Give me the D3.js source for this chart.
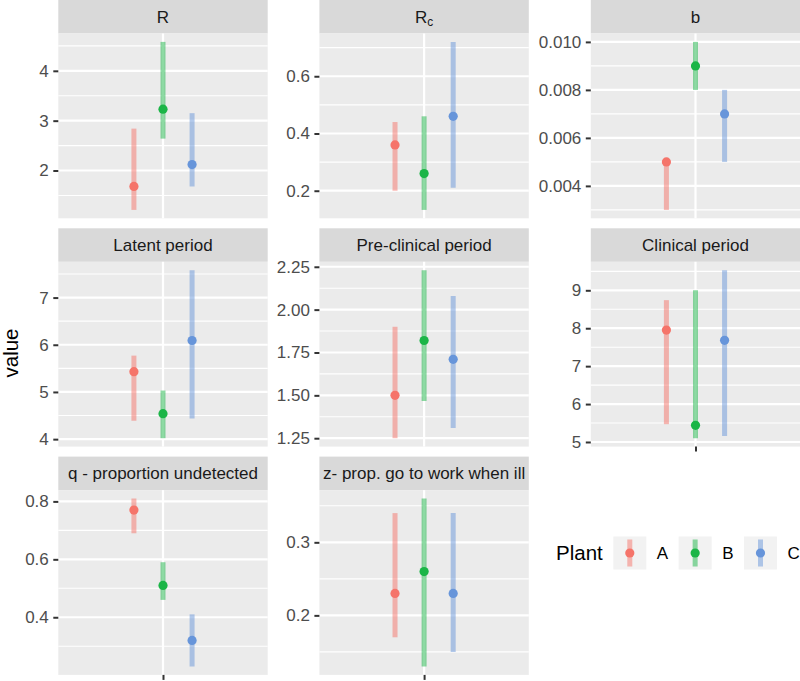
<!DOCTYPE html>
<html><head><meta charset="utf-8">
<script src="https://cdn.jsdelivr.net/npm/d3@7"></script>
<style>body{margin:0;background:#fff}svg{display:block;font-family:"Liberation Sans",Arial,sans-serif}</style>
</head><body><svg id="c" width="800" height="681"></svg>
<script>
// ---------- data ----------
const panels = ["R", "Rc", "b", "Latent period", "Pre-clinical period", "Clinical period",
                "q - proportion undetected", "z- prop. go to work when ill"];
const plants = ["A", "B", "C"];
const colors = ["#F5746A", "#1BB547", "#6795DA"];

const estA = [1.68, 0.36, 0.005, 5.43, 1.50, 7.95, 0.77, 0.23];
const lowA = [1.21, 0.20, 0.003, 4.39, 1.25, 5.47, 0.69, 0.17];
const highA = [2.84, 0.44, 0.005, 5.77, 1.90, 8.74, 0.81, 0.34];

const estB = [3.23, 0.26, 0.009, 4.54, 1.82, 5.44, 0.51, 0.26];
const lowB = [2.64, 0.133, 0.008, 4.02, 1.467, 5.10, 0.46, 0.13];
const highB = [4.58, 0.46, 0.010, 5.03, 2.23, 9.00, 0.59, 0.36];

const estC = [2.12, 0.46, 0.007, 6.09, 1.71, 7.68, 0.32, 0.23];
const lowC = [1.68, 0.21, 0.005, 4.44, 1.31, 5.16, 0.23, 0.15];
const highC = [3.15, 0.72, 0.008, 7.58, 2.08, 9.53, 0.41, 0.34];

const tickVals = [[2, 3, 4], [0.2, 0.4, 0.6], [0.004, 0.006, 0.008, 0.010], [4, 5, 6, 7],
                  [1.25, 1.5, 1.75, 2.0, 2.25], [5, 6, 7, 8, 9], [0.4, 0.6, 0.8], [0.2, 0.3]];
const tickLabels = [["2", "3", "4"], ["0.2", "0.4", "0.6"], ["0.004", "0.006", "0.008", "0.010"],
                    ["4", "5", "6", "7"], ["1.25", "1.50", "1.75", "2.00", "2.25"],
                    ["5", "6", "7", "8", "9"], ["0.4", "0.6", "0.8"], ["0.2", "0.3"]];

// ---------- layout ----------
const colLeft = [58.3, 319.4, 590.8];
const panelW = 209.4;
const rowTop = [0, 228.3, 456.6];
const stripH = 33.5, panelH = 184.8;
const fontSm = 17, fontLg = 20.5;

const est = [estA, estB, estC], low = [lowA, lowB, lowC], high = [highA, highB, highC];
const svg = d3.select("#c");

const xScale = d3.scaleLinear().domain([0.4, 1.6]).range([0, panelW]);
const dodge = d3.scalePoint().domain(plants).range([-0.5 / 3, 0.5 / 3]);

panels.forEach((name, i) => {
  const row = Math.floor(i / 3), col = i % 3;
  const g = svg.append("g").attr("transform", `translate(${colLeft[col]},${rowTop[row]})`);
  // strip
  g.append("rect").attr("width", panelW).attr("height", stripH).attr("fill", "#D9D9D9");
  const st = g.append("text").attr("x", panelW / 2).attr("y", stripH / 2 + fontSm * 0.36)
    .attr("text-anchor", "middle").attr("font-size", fontSm).attr("fill", "#1A1A1A");
  if (name === "Rc") {
    st.append("tspan").text("R");
    st.append("tspan").attr("font-size", fontSm * 0.7).attr("dy", 3).text("c");
  } else st.text(name);

  const p = g.append("g").attr("transform", `translate(0,${stripH})`);
  p.append("rect").attr("width", panelW).attr("height", panelH).attr("fill", "#EBEBEB");

  const lo = d3.min(low, a => a[i]), hi = d3.max(high, a => a[i]);
  const pad = (hi - lo) * 0.05;
  const y = d3.scaleLinear().domain([lo - pad, hi + pad]).range([panelH, 0]);

  // minor grid
  const tv = tickVals[i];
  const step = tv[1] - tv[0];
  const minors = [];
  for (let k = -1; k < tv.length; k++) {
    const m = tv[0] + step * (k + 0.5);
    if (m >= lo - pad && m <= hi + pad) minors.push(m);
  }
  p.selectAll(".mn").data(minors).join("line")
    .attr("x1", 0).attr("x2", panelW).attr("y1", d => y(d)).attr("y2", d => y(d))
    .attr("stroke", "#fff").attr("stroke-width", 1.1);
  p.selectAll(".mj").data(tv).join("line")
    .attr("x1", 0).attr("x2", panelW).attr("y1", d => y(d)).attr("y2", d => y(d))
    .attr("stroke", "#fff").attr("stroke-width", 2.2);
  p.append("line").attr("x1", xScale(1)).attr("x2", xScale(1)).attr("y1", 0).attr("y2", panelH)
    .attr("stroke", "#fff").attr("stroke-width", 2.2);

  // y axis
  const ax = p.append("g").call(d3.axisLeft(y).tickValues(tv)
    .tickFormat((d, j) => tickLabels[i][j]).tickSize(5).tickPadding(4.5));
  ax.select(".domain").remove();
  ax.selectAll("line").attr("stroke", "#333333").attr("stroke-width", 2);
  ax.selectAll("text").attr("fill", "#4D4D4D").attr("font-size", fontSm)
    .attr("font-family", "Liberation Sans, Arial, sans-serif");

  // x axis ticks for bottom panels
  if (row === 2 || (row === 1 && col === 2)) {
    const bx = p.append("g").attr("transform", `translate(0,${panelH})`)
      .call(d3.axisBottom(xScale).tickValues([1]).tickFormat("").tickSize(5));
    bx.select(".domain").remove();
    bx.selectAll("line").attr("stroke", "#333333").attr("stroke-width", 2);
  }

  // marks
  plants.forEach((pl, k) => {
    const cx = xScale(1 + dodge(pl));
    p.append("line").attr("x1", cx).attr("x2", cx)
      .attr("y1", y(low[k][i])).attr("y2", y(high[k][i]))
      .attr("stroke", colors[k]).attr("stroke-opacity", 0.5).attr("stroke-width", 5);
    p.append("circle").attr("cx", cx).attr("cy", y(est[k][i])).attr("r", 4.6).attr("fill", colors[k]);
  });
});

// y axis title
svg.append("text").attr("transform", "translate(18,353) rotate(-90)")
  .attr("text-anchor", "middle").attr("font-size", fontLg).attr("fill", "#000").text("value");

// legend
const leg = svg.append("g").attr("transform", "translate(556,553)");
leg.append("text").attr("x", 0).attr("y", fontLg * 0.36).attr("font-size", fontLg).text("Plant");
let xoff = 57.3;
const keyS = 33;
plants.forEach((pl, k) => {
  const kg = leg.append("g").attr("transform", `translate(${xoff},0)`);
  kg.append("rect").attr("x", 0).attr("y", -keyS / 2).attr("width", keyS).attr("height", keyS).attr("fill", "#F2F2F2");
  kg.append("line").attr("x1", keyS / 2).attr("x2", keyS / 2).attr("y1", -13.5).attr("y2", 13.5)
    .attr("stroke", colors[k]).attr("stroke-opacity", 0.5).attr("stroke-width", 5);
  kg.append("circle").attr("cx", keyS / 2).attr("cy", 0).attr("r", 4.6).attr("fill", colors[k]);
  const t = kg.append("text").attr("x", keyS + 10.5).attr("y", fontSm * 0.36).attr("font-size", fontSm).text(pl);
  xoff += keyS + 10.5 + t.node().getComputedTextLength() + 10.5;
});
</script></body></html>
